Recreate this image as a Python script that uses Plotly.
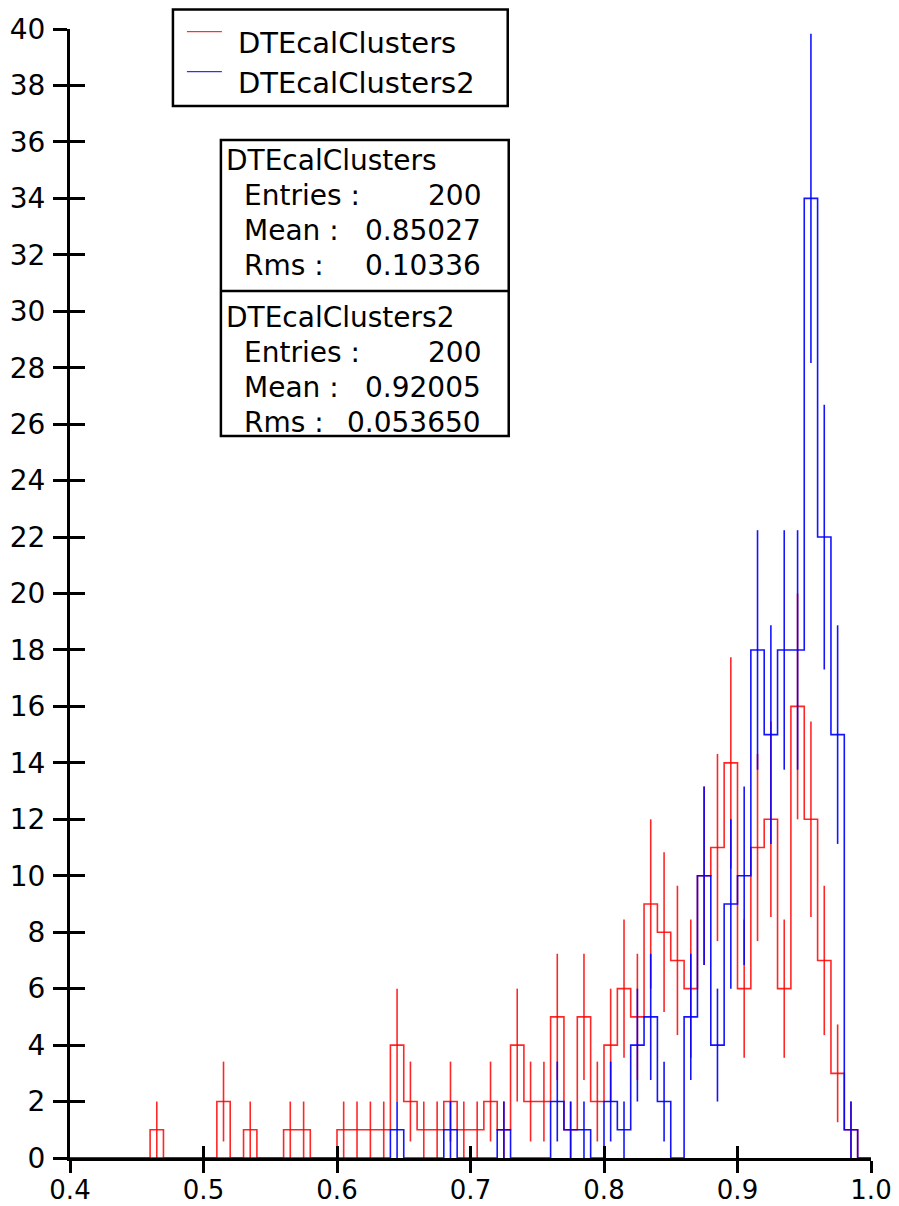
import numpy as np
import plotly.graph_objects as go

# ---------------- data ----------------
# histogram bins: 60 bins of width 0.01 from 0.40 to 1.00
bin_edges = np.round(np.linspace(0.40, 1.00, 61), 2)

red_name = "DTEcalClusters"
red_counts = [
    0, 0, 0, 0, 0, 0, 1, 0, 0, 0,      # 0.40 - 0.49
    0, 2, 0, 1, 0, 0, 1, 1, 0, 0,      # 0.50 - 0.59
    1, 1, 1, 1, 4, 2, 1, 1, 2, 1,      # 0.60 - 0.69
    1, 2, 1, 4, 2, 2, 5, 1, 5, 2,      # 0.70 - 0.79
    4, 6, 5, 9, 8, 7, 6, 10, 11, 14,   # 0.80 - 0.89
    6, 11, 12, 6, 16, 12, 7, 3, 1, 0,  # 0.90 - 0.99
]

blue_name = "DTEcalClusters2"
blue_counts = [
    0, 0, 0, 0, 0, 0, 0, 0, 0, 0,
    0, 0, 0, 0, 0, 0, 0, 0, 0, 0,
    0, 0, 0, 0, 1, 0, 0, 0, 1, 0,
    0, 0, 1, 0, 0, 0, 2, 1, 1, 0,
    2, 1, 4, 5, 2, 0, 5, 10, 4, 9,
    10, 18, 15, 18, 18, 34, 22, 15, 1, 0,
]

stat_names = ["DTEcalClusters", "DTEcalClusters2"]
stat_entries = ["200", "200"]
stat_means = ["0.85027", "0.92005"]
stat_rms = ["0.10336", "0.053650"]

x_tick_vals = [0.4, 0.5, 0.6, 0.7, 0.8, 0.9, 1.0]
x_tick_text = ["0.4", "0.5", "0.6", "0.7", "0.8", "0.9", "1.0"]

# ---------------- geometry (screen pixels) ----------------
W, H = 899, 1206
OFF = 8                      # default page body margin
FW, FH = W - OFF, H - OFF    # figure size so it fits the window
X0S, X1S = 70.0, 871.5       # screen x of 0.4 and 1.0
Y0S, Y40S = 1158.0, 29.0     # screen y of 0 and 40
L = X0S - OFF
R = FW - (X1S - OFF)
T = Y40S - OFF
B = FH - (Y0S - OFF)
PW, PH = X1S - X0S, Y0S - Y40S
FONT = "DejaVu Sans"


def px_x(px):
    return (px - X0S) / PW


def px_y(py):
    return (Y0S - py) / PH


fig = go.Figure()


def add_hist(name, counts, color, xa, ya):
    counts = list(counts)
    fig.add_trace(go.Scatter(
        x=bin_edges, y=counts + [counts[-1]], mode="lines",
        line=dict(shape="hv", color=color, width=1.6),
        name=name, xaxis=xa, yaxis=ya, showlegend=False,
    ))
    lo = bin_edges[:-1]
    hi = bin_edges[1:]
    centers = [(a + b) / 2 for a, b, c in zip(lo, hi, counts) if c > 0]
    vals = [c for c in counts if c > 0]
    errs = [float(np.sqrt(c)) for c in vals]
    fig.add_trace(go.Scatter(
        x=centers, y=vals, mode="markers",
        marker=dict(size=1, color="rgba(0,0,0,0)"),
        error_y=dict(type="data", array=errs, visible=True, width=0,
                     thickness=1.6, color=color),
        showlegend=False, hoverinfo="skip", xaxis=xa, yaxis=ya,
    ))


red_color = "rgba(255,0,0,0.85)"
blue_color = "rgba(0,0,255,0.92)"
add_hist(red_name, red_counts, red_color, "x", "y")
add_hist(blue_name, blue_counts, blue_color, "x2", "y2")

common = dict(showgrid=False, zeroline=False, tickcolor="black", tickwidth=3,
              automargin=False)

fig.update_layout(
    width=FW, height=FH,
    margin=dict(l=L, r=R, t=T, b=B, autoexpand=False),
    paper_bgcolor="white", plot_bgcolor="white",
    showlegend=False,
    xaxis=dict(range=[0.4, 1.0], tickvals=x_tick_vals, ticktext=x_tick_text,
               ticks="outside", ticklen=12, showline=True, linecolor="black",
               linewidth=3, tickfont=dict(family=FONT, size=26, color="black"),
               ticklabelstandoff=-5, layer="below traces", **common),
    yaxis=dict(range=[0, 40], tick0=0, dtick=2, ticks="outside", ticklen=14,
               showline=True, linecolor="black", linewidth=3,
               tickfont=dict(family=FONT, size=28, color="black"),
               ticklabelstandoff=2, layer="below traces", **common),
    xaxis2=dict(range=[0.4, 1.0], overlaying="x", anchor="y", side="bottom",
                tickvals=x_tick_vals, ticks="inside", ticklen=12,
                showticklabels=False, showline=False, **common),
    yaxis2=dict(range=[0, 40], overlaying="y", anchor="x", side="left",
                tick0=0, dtick=2, ticks="inside", ticklen=15,
                showticklabels=False, showline=False, **common),
)

# ---------------- legend box (drawn) ----------------
leg_font = dict(family=FONT, size=29, color="black")
fig.add_shape(type="rect", xref="paper", yref="paper",
              x0=px_x(173), x1=px_x(508), y0=px_y(106), y1=px_y(9.5),
              line=dict(color="black", width=2.5), fillcolor="white")
for k, (nm, col) in enumerate([(red_name, "rgb(255,0,0)"),
                               (blue_name, "rgb(0,0,255)")]):
    ly = 31.7 + k * 40
    fig.add_shape(type="line", xref="paper", yref="paper",
                  x0=px_x(187), x1=px_x(222), y0=px_y(ly), y1=px_y(ly),
                  line=dict(color=col, width=1))
    fig.add_annotation(xref="paper", yref="paper", x=px_x(236),
                       y=px_y(43 + k * 39.7), text=nm, showarrow=False,
                       xanchor="left", yanchor="middle", font=leg_font)

# ---------------- statistics box ----------------
box_x0, box_x1 = px_x(221), px_x(509)
fig.add_shape(type="rect", xref="paper", yref="paper",
              x0=box_x0, x1=box_x1, y0=px_y(436), y1=px_y(140),
              line=dict(color="black", width=2.5), fillcolor="white")
fig.add_shape(type="line", xref="paper", yref="paper",
              x0=box_x0, x1=box_x1, y0=px_y(291), y1=px_y(291),
              line=dict(color="black", width=2.5))

stat_font = dict(family=FONT, size=28, color="black")
line_h = 34.8
for k in range(2):
    top = 161 + k * 156.7
    fig.add_annotation(xref="paper", yref="paper", x=px_x(224), y=px_y(top),
                       text=stat_names[k], showarrow=False, xanchor="left",
                       yanchor="middle", font=stat_font)
    rows = [("Entries :", stat_entries[k]), ("Mean :", stat_means[k]),
            ("Rms :", stat_rms[k])]
    for j, (lab, val) in enumerate(rows):
        yy = top + (j + 1) * line_h
        fig.add_annotation(xref="paper", yref="paper", x=px_x(242), y=px_y(yy),
                           text=lab, showarrow=False, xanchor="left",
                           yanchor="middle", font=stat_font)
        fig.add_annotation(xref="paper", yref="paper", x=px_x(483), y=px_y(yy),
                           text=val, showarrow=False, xanchor="right",
                           yanchor="middle", font=stat_font)

fig.write_html("out.html")
